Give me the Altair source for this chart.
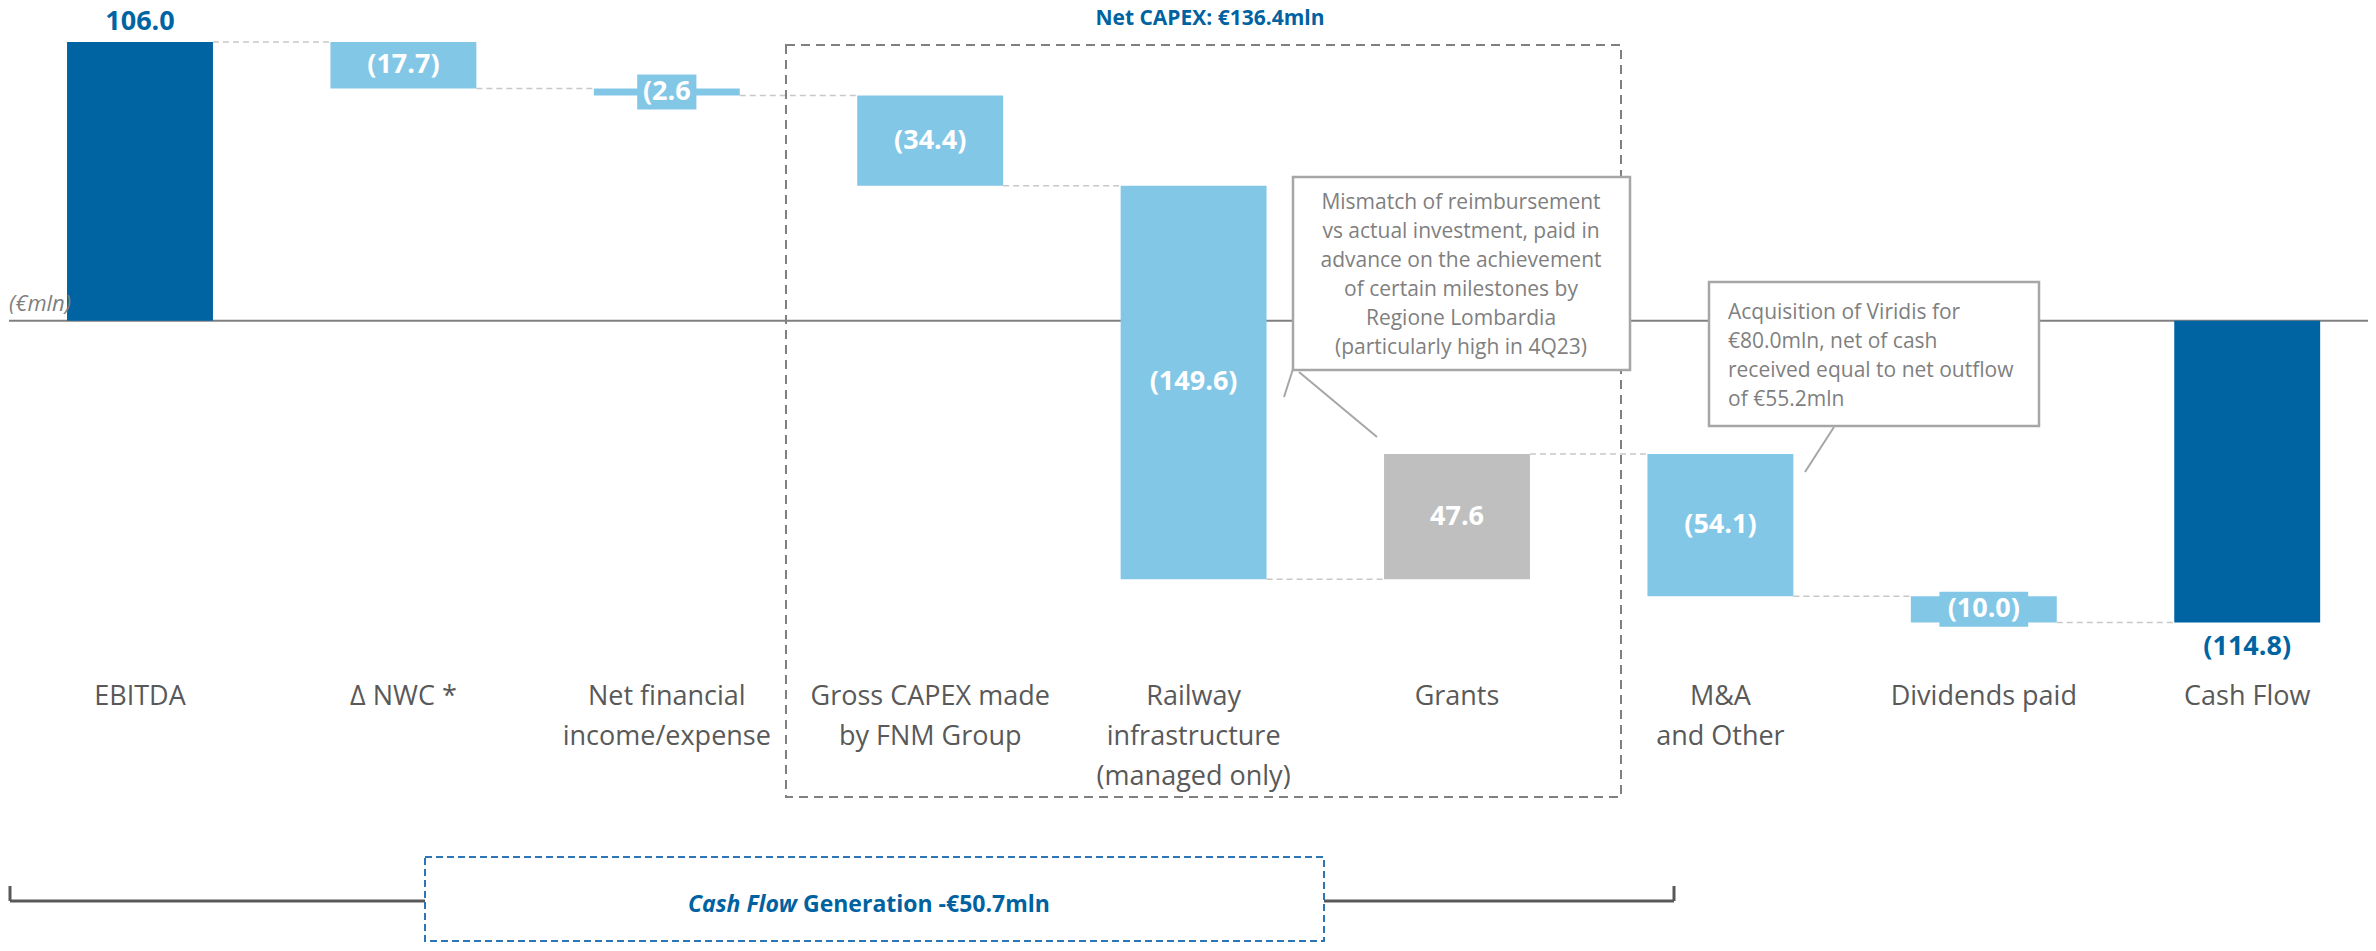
import altair as alt
import pandas as pd

# ---------------- data ----------------
categories = ["EBITDA", "Δ NWC *", "Net financial\nincome/expense", "Gross CAPEX made\nby FNM Group",
              "Railway\ninfrastructure\n(managed only)", "Grants", "M&A\nand Other", "Dividends paid", "Cash Flow"]
values = [106.0, -17.7, -2.6, -34.4, -149.6, 47.6, -54.1, -10.0, -114.8]
kinds = ["total", "decrease", "decrease", "decrease", "decrease", "grant", "decrease", "decrease", "total"]
value_labels = ["106.0", "(17.7)", "(2.6", "(34.4)", "(149.6)", "47.6", "(54.1)", "(10.0)", "(114.8)"]

net_capex_title = "Net CAPEX: €136.4mln"
mismatch_note = ("Mismatch of reimbursement\nvs actual investment, paid  in\nadvance on the achievement\n"
                 "of certain milestones by\nRegione Lombardia\n(particularly high in 4Q23)")
viridis_note = "Acquisition of Viridis for\n€80.0mln, net of cash\nreceived equal to net outflow\nof €55.2mln"
cf_italic = "Cash Flow"
cf_rest = "Generation -€50.7mln"
unit_label = "(€mln)"

# ---------------- layout helpers ----------------
W, H = 2360, 935
OFF = 8
STEP = 263.4       # px per category
X0 = 140.0         # page px of first category centre
PXU = 2.629        # px per €mln
Y0 = 320.7         # page px of zero
HALF = 0.277       # half bar width in category units

def ux(px):
    return (px - X0) / STEP

def uy(py):
    return (Y0 - py) / PXU

xs = alt.Scale(domain=[ux(OFF), ux(OFF + W)], nice=False, zero=False)
ys = alt.Scale(domain=[uy(OFF + H), uy(OFF)], nice=False, zero=False)

def X(f="x"):
    return alt.X(f"{f}:Q", scale=xs, axis=None)

def Y(f="y"):
    return alt.Y(f"{f}:Q", scale=ys, axis=None)

FONT = "Open Sans"
DARK = "#0064A3"
LIGHT = "#83C7E7"
GREY = "#BFBFBF"
TXT = "#595959"
NOTE = "#7F7F7F"
TITLE = "#0062A1"

# ---------------- waterfall table ----------------
rows = []
running = 0.0
for i, (c, v, k, l) in enumerate(zip(categories, values, kinds, value_labels)):
    if k == "total":
        start, end = 0.0, v
    else:
        start, end = running, running + v
    running = end
    rows.append(dict(i=i, cat=c, v=v, kind=k, label=l, start=start, end=end,
                     mid=(start + end) / 2, xl=i - HALF, xr=i + HALF))
df = pd.DataFrame(rows)

conn = pd.DataFrame([dict(x=r.i + HALF, x2=r.i + 1 - HALF, y=r.end)
                     for r in df.itertuples() if r.i < len(df) - 1])

small = df[(df.kind != "total") & (df.v.abs() < 15)].copy()
small["bw"] = small.label.str.len() * 7.4 / STEP
small["bx1"] = small.i - small.bw
small["bx2"] = small.i + small.bw
small["by1"] = small.mid - 17.5 / PXU
small["by2"] = small.mid + 17.5 / PXU

inside = df[df.kind != "total"]
totals = df[df.kind == "total"]

layers = []

# baseline
layers.append(alt.Chart(pd.DataFrame([dict(x=ux(9), x2=ux(2368), y=0)])).mark_rule(
    color="#808080", strokeWidth=2
).encode(x=X(), x2="x2:Q", y=Y()))

# connectors
layers.append(alt.Chart(conn).mark_rule(color="#C8C8C8", strokeWidth=1.5, strokeDash=[6, 4]).encode(
    x=X(), x2="x2:Q", y=Y()))

# bars
layers.append(alt.Chart(df).mark_rect().encode(
    x=X("xl"), x2="xr:Q", y=Y("start"), y2="end:Q",
    color=alt.Color("kind:N", scale=alt.Scale(domain=["total", "decrease", "grant"],
                                              range=[DARK, LIGHT, GREY]), legend=None)))

# unit label
layers.append(alt.Chart(pd.DataFrame([dict(x=ux(9), y=uy(304), t=unit_label)])).mark_text(
    font=FONT, fontSize=22, fontStyle="italic", color=NOTE, align="left", baseline="middle"
).encode(x=X(), y=Y(), text="t:N"))

# label background for thin bars
layers.append(alt.Chart(small).mark_rect(color=LIGHT).encode(
    x=X("bx1"), x2="bx2:Q", y=Y("by1"), y2="by2:Q"))

# labels inside bars
layers.append(alt.Chart(inside).mark_text(
    font=FONT, fontSize=27, fontWeight="bold", color="white", align="center", baseline="middle"
).encode(x=X("i"), y=Y("mid"), text="label:N"))

# total labels
layers.append(alt.Chart(totals[totals.v > 0]).mark_text(
    font=FONT, fontSize=27, fontWeight="bold", color=DARK, align="center", baseline="middle", dy=-20
).encode(x=X("i"), y=Y("end"), text="label:N"))
layers.append(alt.Chart(totals[totals.v < 0]).mark_text(
    font=FONT, fontSize=27, fontWeight="bold", color=DARK, align="center", baseline="middle", dy=24
).encode(x=X("i"), y=Y("end"), text="label:N"))

# category labels
cat_df = df[["i", "cat"]].copy()
cat_df["y"] = uy(683.5)
layers.append(alt.Chart(cat_df).mark_text(
    font=FONT, fontSize=27, color=TXT, align="center", baseline="top", lineBreak="\n", lineHeight=40
).encode(x=X("i"), y=Y(), text="cat:N"))

# Net CAPEX dashed box and title
layers.append(alt.Chart(pd.DataFrame([dict(x=ux(786), x2=ux(1621), y=uy(45), y2=uy(797))])).mark_rect(
    fillOpacity=0, stroke="#808080", strokeWidth=2, strokeDash=[9, 6]
).encode(x=X(), x2="x2:Q", y=Y(), y2="y2:Q"))
layers.append(alt.Chart(pd.DataFrame([dict(x=ux(1210), y=uy(19), t=net_capex_title)])).mark_text(
    font=FONT, fontSize=21, fontWeight="bold", color=TITLE, align="center", baseline="middle"
).encode(x=X(), y=Y(), text="t:N"))

# pointers
ptr = pd.DataFrame([
    dict(x=ux(1293), y=uy(369), x2=ux(1284), y2=uy(397)),
    dict(x=ux(1299), y=uy(372), x2=ux(1377), y2=uy(437)),
    dict(x=ux(1834), y=uy(427), x2=ux(1805), y2=uy(472)),
])
layers.append(alt.Chart(ptr).mark_rule(color="#A6A6A6", strokeWidth=2).encode(
    x=X(), y=Y(), x2="x2:Q", y2="y2:Q"))

# annotation boxes
notes_box = pd.DataFrame([
    dict(x=ux(1293), x2=ux(1630), y=uy(177), y2=uy(370)),
    dict(x=ux(1709), x2=ux(2039), y=uy(282), y2=uy(426)),
])
layers.append(alt.Chart(notes_box).mark_rect(fill="white", stroke="#A6A6A6", strokeWidth=2.5).encode(
    x=X(), x2="x2:Q", y=Y(), y2="y2:Q"))
layers.append(alt.Chart(pd.DataFrame([dict(x=ux(1461), y=uy(192), t=mismatch_note)])).mark_text(
    font=FONT, fontSize=21, color=NOTE, align="center", baseline="top", lineBreak="\n", lineHeight=29
).encode(x=X(), y=Y(), text="t:N"))
layers.append(alt.Chart(pd.DataFrame([dict(x=ux(1728), y=uy(302), t=viridis_note)])).mark_text(
    font=FONT, fontSize=21, color=NOTE, align="left", baseline="top", lineBreak="\n", lineHeight=29
).encode(x=X(), y=Y(), text="t:N"))

# Cash flow generation bracket
brk = pd.DataFrame([
    dict(x=ux(10), y=uy(886), x2=ux(10), y2=uy(901)),
    dict(x=ux(10), y=uy(901), x2=ux(425), y2=uy(901)),
    dict(x=ux(1324), y=uy(901), x2=ux(1674), y2=uy(901)),
    dict(x=ux(1674), y=uy(886), x2=ux(1674), y2=uy(901)),
])
layers.append(alt.Chart(brk).mark_rule(color="#595959", strokeWidth=3).encode(
    x=X(), y=Y(), x2="x2:Q", y2="y2:Q"))
layers.append(alt.Chart(pd.DataFrame([dict(x=ux(425), x2=ux(1324), y=uy(857), y2=uy(941))])).mark_rect(
    fill="white", stroke="#2E75B6", strokeWidth=2, strokeDash=[7, 4]
).encode(x=X(), x2="x2:Q", y=Y(), y2="y2:Q"))
layers.append(alt.Chart(pd.DataFrame([dict(x=ux(797), y=uy(905), t=cf_italic)])).mark_text(
    font=FONT, fontSize=23, fontWeight="bold", fontStyle="italic", color=TITLE, align="right", baseline="middle"
).encode(x=X(), y=Y(), text="t:N"))
layers.append(alt.Chart(pd.DataFrame([dict(x=ux(803), y=uy(905), t=cf_rest)])).mark_text(
    font=FONT, fontSize=23, fontWeight="bold", color=TITLE, align="left", baseline="middle"
).encode(x=X(), y=Y(), text="t:N"))

chart = alt.layer(*layers).properties(
    width=W, height=H, padding=0, background="white",
    autosize=alt.AutoSizeParams(type="none"),
).configure_view(strokeWidth=0)

chart.save("out.html", embed_options={"renderer": "svg", "actions": False})
